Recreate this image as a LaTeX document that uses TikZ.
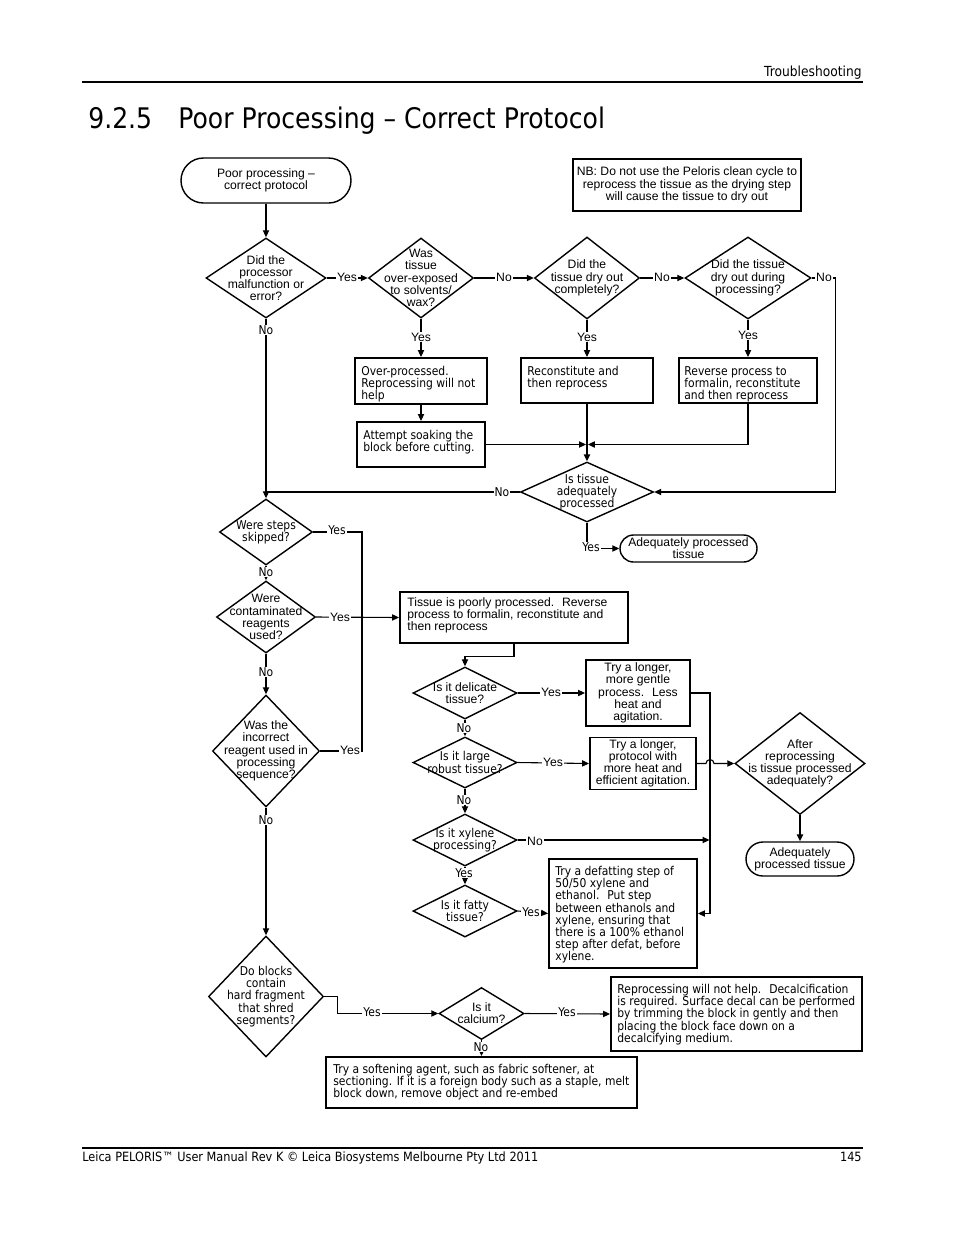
\documentclass[tikz,border=0pt]{standalone}
\usepackage{fontspec}
\usetikzlibrary{positioning,calc,arrows.meta,shapes.geometric,shapes.misc}
\newfontfamily\arl{Liberation Sans}
\newfontfamily\tah{DejaVu Sans}[FakeStretch=0.885]
\newcommand\pxl{0.6415pt}
\newcommand\dfont{\fontsize{7.8pt}{7.8pt}\selectfont}
\tikzset{
    dia/.style={draw,diamond,line width=0.9pt,inner sep=0pt},
    box/.style={draw,rectangle,line width=1.2pt,inner sep=0pt},
    term/.style={draw,rounded rectangle,line width=0.9pt,inner sep=0pt,align=center,font=\arl\dfont},
    dim/.style 2 args={minimum width=#1*\pxl,minimum height=#2*\pxl},
    atxt/.style={inner sep=0pt,align=center,font=\arl\dfont},
    ttxt/.style={inner sep=0pt,align=center,font=\tah\dfont},
    ltxt/.style={inner sep=0pt,align=left,anchor=north west,font=\tah\dfont},
    lab/.style={fill=white,inner sep=0.6pt,font=\arl\dfont},
    tlab/.style={lab,font=\tah\dfont},
    link/.style={line width=0.7pt},
    arrow/.style={-{Triangle[length=4.5pt,width=4pt]},line width=0.7pt},
    heavy/.style={line width=1.2pt}
}

\begin{document}
\begin{tikzpicture}[x=\pxl,y=-\pxl]
  \useasboundingbox (0,0) rectangle (954,1235);
  % page head and foot
  \node[inner sep=0pt,anchor=base east,font=\tah\fontsize{8.9pt}{9pt}\selectfont] (head) at (862,76) {Troubleshooting};
  \draw[line width=1.3pt] (82,82) -- (863,82);
  \node[inner sep=0pt,anchor=base west,font=\tah\fontsize{18.2pt}{18pt}\selectfont] (secno) at (88,128) {9.2.5};
  \node[inner sep=0pt,anchor=base west,font=\tah\fontsize{18.2pt}{18pt}\selectfont] (title) at (178,128) {Poor Processing – Correct Protocol};
  \draw[line width=0.7pt] (82,1148) -- (863,1148);
  \node[inner sep=0pt,anchor=base west,font=\tah\fontsize{8.2pt}{8pt}\selectfont] (foot) at (82,1161) {Leica PELORIS™ User Manual Rev K © Leica Biosystems Melbourne Pty Ltd 2011};
  \node[inner sep=0pt,anchor=base east,font=\tah\fontsize{8.2pt}{8pt}\selectfont] (page) at (862,1161) {145};

  % top row
  \node[term,dim={170}{45}] (start) at (266,180.5) {Poor processing –\\correct protocol};
  \node[box,line width=0.9pt,dim={228}{52},align=center,font=\arl\dfont] (nb) at (687,185) {NB: Do not use the Peloris clean cycle to\\reprocess the tissue as the drying step\\will cause the tissue to dry out};

  \node[dia,dim={120}{80}] (malf) at (266,278) {};
  \node[atxt] (malf-t) at (malf) {Did the\\processor\\malfunction or\\error?};
  \node[dia,dim={105}{80}] (expo) at (421,278) {};
  \node[atxt] (expo-t) at (expo) {Was\\tissue\\over-exposed\\to solvents/\\wax?};
  \node[dia,dim={105}{82}] (dry) at (587,278) {};
  \node[atxt] (dry-t) at (dry) {Did the\\tissue dry out\\completely?};
  \node[dia,dim={126}{82}] (dryproc) at (748,278) {};
  \node[atxt] (dryproc-t) at (dryproc) {Did the tissue\\dry out during\\processing?};

  \node[box,dim={132}{46}] (overp) at (421,381) {};
  \node[ltxt] (overp-t) at ([shift={(7,9)}]overp.north west) {Over-processed.\\Reprocessing will not\\help};
  \node[box,dim={128}{45}] (soak) at (421,444.5) {};
  \node[ltxt] (soak-t) at ([shift={(7,9)}]soak.north west) {Attempt soaking the\\block before cutting.};
  \node[box,dim={132}{45}] (recon) at (587,380.5) {};
  \node[ltxt] (recon-t) at ([shift={(7,9)}]recon.north west) {Reconstitute and\\then reprocess};
  \node[box,dim={138}{45}] (rev) at (748,380.5) {};
  \node[ltxt] (rev-t) at ([shift={(6,9)}]rev.north west) {Reverse process to\\formalin, reconstitute\\and then reprocess};

  \node[dia,dim={133}{60}] (adeq) at (587,492) {};
  \node[ttxt] (adeq-t) at (adeq) {Is tissue\\adequately\\processed};
  \node[term,dim={137}{27}] (adeqt) at (688.5,548.5) {Adequately processed\\tissue};
  \coordinate (mrg) at (587,444.5);

  % left column
  \node[dia,dim={93}{66}] (skip) at (266,532) {};
  \node[ttxt] (skip-t) at (skip) {Were steps\\skipped?};
  \node[dia,dim={99}{72}] (cont) at (266,617) {};
  \node[atxt] (cont-t) at (cont) {Were\\contaminated\\reagents\\used?};
  \node[dia,dim={107}{112}] (wrong) at (266,751) {};
  \node[atxt] (wrong-t) at (wrong) {Was the\\incorrect\\reagent used in\\processing\\sequence?};
  \node[dia,dim={115}{121}] (hard) at (266,996.5) {};
  \node[ttxt] (hard-t) at (hard) {Do blocks\\contain\\hard fragment\\that shred\\segments?};
  \coordinate (bus) at (362,617);

  % reprocessing branch
  \node[box,dim={228}{51}] (poor) at (514,617.5) {};
  \node[ltxt,font=\arl\dfont] (poor-t) at ([shift={(8,6)}]poor.north west) {Tissue is poorly processed.~ Reverse\\process to formalin, reconstitute and\\then reprocess};
  \node[dia,dim={104}{52}] (delic) at (465,693) {};
  \node[atxt] (delic-t) at (delic) {Is it delicate\\tissue?};
  \node[box,dim={104}{66},align=center,font=\arl\dfont] (gentle) at (638,693) {Try a longer,\\more gentle\\process.~ Less\\heat and\\agitation.};
  \node[dia,dim={104}{51}] (robust) at (465,762.5) {};
  \node[ttxt] (robust-t) at (robust) {Is it large\\robust tissue?};
  \node[box,dim={106}{52},align=center,font=\arl\dfont] (heat) at (643,763.5) {Try a longer,\\protocol with\\more heat and\\efficient agitation.};
  \node[dia,dim={104}{52}] (xyl) at (465,840) {};
  \node[ttxt] (xyl-t) at (xyl) {Is it xylene\\processing?};
  \node[dia,dim={104}{52}] (fatty) at (465,911) {};
  \node[ttxt] (fatty-t) at (fatty) {Is it fatty\\tissue?};
  \node[box,dim={148}{109}] (defat) at (623,913.5) {};
  \node[ltxt] (defat-t) at ([shift={(7,8)}]defat.north west) {Try a defatting step of\\50/50 xylene and\\ethanol.~ Put step\\between ethanols and\\xylene, ensuring that\\there is a 100\% ethanol\\step after defat, before\\xylene.};
  \node[dia,dim={130}{102}] (after) at (800,763.5) {};
  \node[atxt] (after-t) at (after) {After\\reprocessing\\is tissue processed\\adequately?};
  \node[term,dim={108}{34}] (adeq2) at (800,859) {Adequately\\processed tissue};
  \coordinate (rbus) at (710,693);

  % hard fragments
  \node[dia,dim={85}{52}] (calc) at (481.5,1013.5) {};
  \node[atxt] (calc-t) at (calc) {Is it\\calcium?};
  \node[box,dim={251}{74}] (decal) at (736.5,1014) {};
  \node[ltxt] (decal-t) at ([shift={(7,8)}]decal.north west) {Reprocessing will not help.~ Decalcification\\is required. Surface decal can be performed\\by trimming the block in gently and then\\placing the block face down on a\\decalcifying medium.};
  \node[box,dim={311}{51}] (soft) at (481.5,1082.5) {};
  \node[ltxt] (soft-t) at ([shift={(8,8)}]soft.north west) {Try a softening agent, such as fabric softener, at\\sectioning. If it is a foreign body such as a staple, melt\\block down, remove object and re-embed};

  % connectors
  \draw[arrow] (start.south) -- (malf.north);
  \draw[arrow] (malf.east) -- (expo.west);
  \draw[arrow] (expo.east) -- (dry.west);
  \draw[arrow] (dry.east) -- (dryproc.west);
  \draw[arrow] (dryproc.east) -- ++(24,0) |- (adeq.east);
  \draw[arrow] (expo.south) -- (overp.north);
  \draw[arrow] (overp.south) -- (soak.north);
  \draw[arrow] (dry.south) -- (recon.north);
  \draw[arrow] (dryproc.south) -- (rev.north);
  \draw[arrow,heavy] (recon.south) -- (adeq.north);
  \draw[heavy] (soak.east) -- ++(12,0);
  \draw[arrow,shorten >=0.6pt] (soak.east) -- (mrg);
  \draw[arrow,line width=0.9pt,shorten >=0.6pt] (rev.south) |- (mrg);
  \draw[link] (adeq.west) -- (adeq.west -| malf.south);
  \draw[arrow] (malf.south) -- (skip.north);
  \draw[arrow] (adeq.south) |- (adeqt.west);
  \draw[link] (skip.east) -| (bus);
  \draw[link] (wrong.east) -| (bus);
  \draw[arrow] (cont.east) -- (poor.west);
  \draw[arrow] (skip.south) -- (cont.north);
  \draw[arrow] (cont.south) -- (wrong.north);
  \draw[arrow] (wrong.south) -- (hard.north);
  \draw[arrow] (hard.east) -- ++(13,0) |- (calc.west);
  \draw[arrow] (calc.east) -- (decal.west);
  \draw[arrow] (calc.south) -- (soft.north);
  \draw[arrow] (poor.south) -- ++(0,13) -| (delic.north);
  \draw[arrow] (delic.east) -- (gentle.west);
  \draw[arrow] (delic.south) -- (robust.north);
  \draw[arrow] (robust.east) -- (heat.west);
  \draw[arrow] (robust.south) -- (xyl.north);
  \draw[arrow] (xyl.south) -- (fatty.north);
  \draw[arrow] (fatty.east) -- (defat.west);
  \draw[arrow] (gentle.east) -- (rbus) |- (defat.east);
  \draw[arrow,shorten >=0.3pt] (xyl.east) -- (xyl.east -| rbus);
  \draw[arrow] (heat.east) -- ([xshift=-4*\pxl]heat.east -| rbus) arc[start angle=180,end angle=0,radius=4*\pxl] -- (after.west);
  \draw[arrow,heavy] (after.south) -- (adeq2.north);

  % yes / no labels
  \node[lab] (l-malf-y) at (347,277) {Yes};
  \node[tlab] (l-malf-n) at (266,330) {No};
  \node[lab] (l-expo-n) at (504,277) {No};
  \node[lab] (l-expo-y) at (421,337) {Yes};
  \node[lab] (l-dry-n) at (662,277) {No};
  \node[lab] (l-dry-y) at (587,337) {Yes};
  \node[lab] (l-dryp-n) at (824,277) {No};
  \node[lab] (l-dryp-y) at (748,335) {Yes};
  \node[tlab] (l-adeq-n) at (502,492) {No};
  \node[tlab] (l-adeq-y) at (591,547) {Yes};
  \node[tlab] (l-skip-y) at (337,530) {Yes};
  \node[tlab] (l-skip-n) at (266,572) {No};
  \node[lab] (l-cont-y) at (340,617) {Yes};
  \node[tlab] (l-cont-n) at (266,672) {No};
  \node[lab] (l-wrong-y) at (350,750) {Yes};
  \node[tlab] (l-wrong-n) at (266,820) {No};
  \node[tlab] (l-hard-y) at (372,1012) {Yes};
  \node[tlab] (l-calc-y) at (567,1012) {Yes};
  \node[tlab] (l-calc-n) at (481,1047) {No};
  \node[lab] (l-delic-y) at (551,692) {Yes};
  \node[tlab] (l-delic-n) at (464,728) {No};
  \node[lab] (l-robust-y) at (553,762) {Yes};
  \node[tlab] (l-robust-n) at (464,800) {No};
  \node[lab] (l-xyl-n) at (535,841) {No};
  \node[tlab] (l-xyl-y) at (464,873) {Yes};
  \node[tlab] (l-fatty-y) at (531,912) {Yes};
\end{tikzpicture}
\end{document}
